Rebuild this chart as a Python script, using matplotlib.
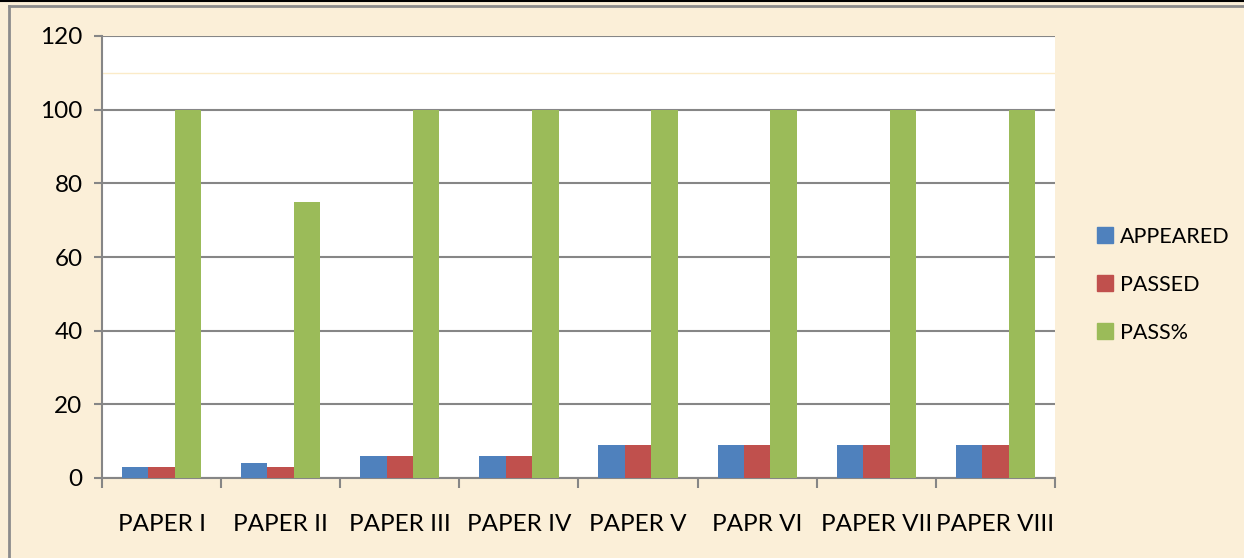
import numpy as np
import matplotlib
matplotlib.use("Agg")
import matplotlib.pyplot as plt
from matplotlib.lines import Line2D

plt.rcParams['font.family'] = ['Lato', 'DejaVu Sans']

papers = ['PAPER I', 'PAPER II', 'PAPER III', 'PAPER IV', 'PAPER V',
          'PAPR VI', 'PAPER VII', 'PAPER VIII']
appeared = [3, 4, 6, 6, 9, 9, 9, 9]
passed = [3, 3, 6, 6, 9, 9, 9, 9]
pass_pct = [100, 75, 100, 100, 100, 100, 100, 100]

series = [('APPEARED', appeared, '#4F81BD'),
          ('PASSED', passed, '#C0504D'),
          ('PASS%', pass_pct, '#9BBB59')]

bg = '#FBEFD8'
grid_c = '#868686'

fig = plt.figure(figsize=(12.44, 5.58), dpi=100, facecolor=bg)
ax = fig.add_axes([102/1244, 1 - 478/558, (1055-102)/1244, (478-36)/558])
ax.set_facecolor('white')

x = np.arange(len(papers))
w = 0.222
for i, (name, vals, col) in enumerate(series):
    ax.bar(x + (i - 1) * w, vals, width=w, color=col, label=name, zorder=3)

ax.set_xlim(-0.5, len(papers) - 0.5)
ax.set_ylim(0, 120)
ax.set_yticks(range(0, 121, 20))
ax.yaxis.grid(True, color=grid_c, linewidth=1.5, zorder=1)
ax.axhline(110, color='#FBEBC8', linewidth=1, zorder=1)

ax.set_xticks(x)
ax.set_xticklabels(papers)
ax.set_xticks(np.arange(-0.5, len(papers)), minor=True)
ax.tick_params(axis='x', which='major', length=0, pad=26, labelsize=17.5)
ax.tick_params(axis='x', which='minor', length=7, width=1.5, color=grid_c)
ax.tick_params(axis='y', length=6, width=1.5, color=grid_c, labelsize=17.5, pad=8)

for s in ['top', 'right']:
    ax.spines[s].set_visible(False)
for s in ['left', 'bottom']:
    ax.spines[s].set_color(grid_c)
    ax.spines[s].set_linewidth(1.5)

handles = [Line2D([], [], marker='s', linestyle='none', markersize=11,
                  markerfacecolor=c, markeredgecolor=c) for _, _, c in series]
fig.legend(handles, [n for n, _, _ in series], loc='center left',
           bbox_to_anchor=(1094/1244, 1 - 285/558), frameon=False, borderpad=0,
           borderaxespad=0, fontsize=15.5, labelspacing=1.3, handletextpad=0.2,
           handlelength=1.0)

# outer frame lines
fig.add_artist(Line2D([0, 1], [1 - 0.5/558, 1 - 0.5/558], color='black', linewidth=1.5,
                      transform=fig.transFigure))
fig.add_artist(Line2D([9/1244, 1], [1 - 6/558, 1 - 6/558], color='#8C8C8C', linewidth=2,
                      transform=fig.transFigure))
fig.add_artist(Line2D([9/1244, 9/1244], [0, 1 - 6/558], color='#8C8C8C', linewidth=2,
                      transform=fig.transFigure))

fig.savefig('out.png', dpi=100, facecolor=bg)
